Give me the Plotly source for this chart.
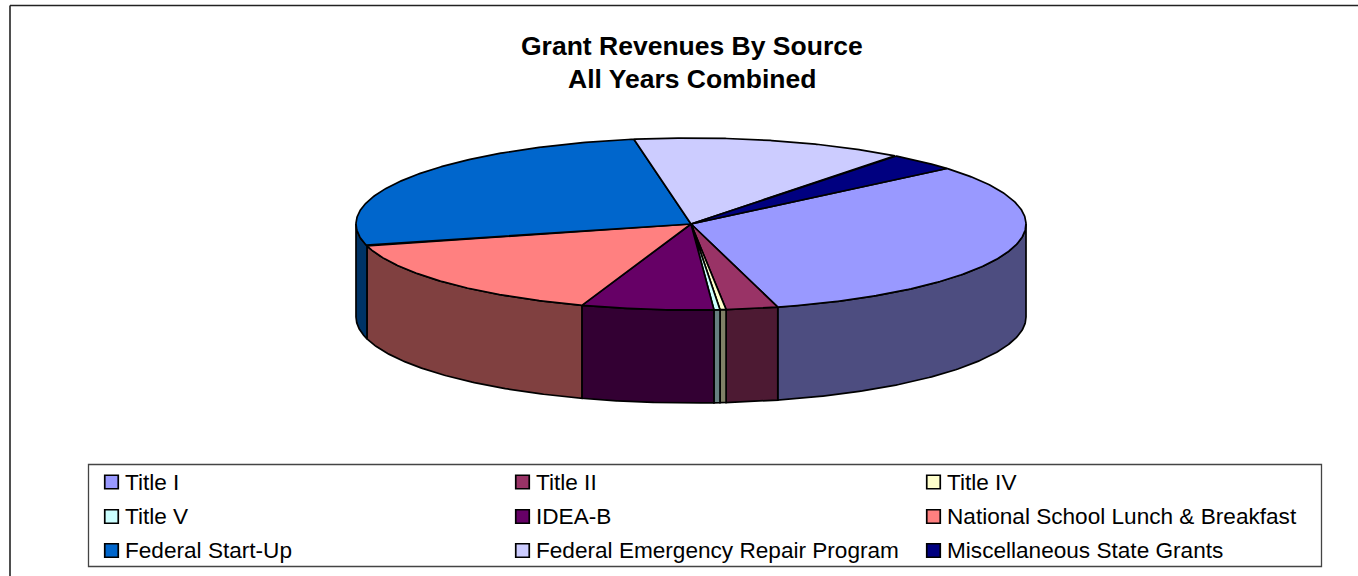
import numpy as np
import plotly.graph_objects as go

# Data (share of total, %)
categories = ["Title I", "Title II", "Title IV", "Title V", "IDEA-B",
              "National School Lunch & Breakfast", "Federal Start-Up",
              "Federal Emergency Repair Program", "Miscellaneous State Grants"]
values = [32.0, 2.5, 0.29, 0.29, 6.37, 15.64, 26.36, 13.14, 3.42]
top_colors = ["#9999FF", "#993366", "#FFFFCC", "#CCFFFF", "#660066",
              "#FF8080", "#0066CC", "#CCCCFF", "#000080"]
side_colors = ["#4D4D80", "#4D1A33", "#808066", "#668080", "#330033",
               "#804040", "#003366", "#666680", "#000040"]
title_lines = ["Grant Revenues By Source", "All Years Combined"]

# Pie geometry (in pixel-scaled axes)
W, H = 1358, 576
CX, CY, RX, RY, DEPTH = 691.0, 224.0, 335.0, 86.0, 93.0
START_DEG = 40.2   # first slice starts here, going clockwise


def ell(t_deg, dy=0.0):
    t = np.radians(t_deg)
    return CX + RX * np.cos(t), CY - RY * np.sin(t) + dy


fig = go.Figure()
shares = np.array(values) / sum(values) * 360.0
ends = START_DEG - np.cumsum(shares)
starts = ends + shares

# Side walls: front half only (angles -180..0)
for name, s, e, col in zip(categories, starts, ends, side_colors):
    for shift in (0, -360):
        a = min(s + shift, 0.0)
        b = max(e + shift, -180.0)
        if a > b:
            t = np.linspace(a, b, 120)
            x1, y1 = ell(t)
            x2, y2 = ell(t[::-1], DEPTH)
            fig.add_trace(go.Scatter(
                x=np.r_[x1, x2, x1[0]], y=np.r_[y1, y2, y1[0]],
                mode="lines", fill="toself", fillcolor=col,
                line=dict(color="black", width=1.7),
                name=name, showlegend=False, hoverinfo="name"))

# Top face
for name, s, e, col in zip(categories, starts, ends, top_colors):
    t = np.linspace(s, e, 200)
    x, y = ell(t)
    fig.add_trace(go.Scatter(
        x=np.r_[CX, x, CX], y=np.r_[CY, y, CY],
        mode="lines", fill="toself", fillcolor=col,
        line=dict(color="black", width=1.7),
        name=name, showlegend=False, hoverinfo="name"))

# Legend, laid out to the 3-column box of the reference
LEG_X = [111.5, 522.5, 933.5]
LEG_Y = [482, 516.5, 550.5]
lx = [LEG_X[i % 3] for i in range(len(categories))]
ly = [LEG_Y[i // 3] for i in range(len(categories))]
fig.add_trace(go.Scatter(
    x=lx, y=ly, mode="markers", showlegend=False, hoverinfo="skip",
    marker=dict(symbol="square", size=13.5, color=top_colors,
                line=dict(color="black", width=1.7))))

annotations = [dict(x=px + 11.5, y=py, xref="x", yref="y", text=c, showarrow=False,
                    xanchor="left", yanchor="middle",
                    font=dict(family="Liberation Sans", size=22.6, color="black"))
               for c, px, py in zip(categories, lx, ly)]
annotations += [dict(x=691.5, y=yy, xref="x", yref="y", text=f"<b>{t}</b>", showarrow=False,
                     xanchor="center", yanchor="middle",
                     font=dict(family="Liberation Sans", size=26.5, color="black"))
                for t, yy in zip(title_lines, [46, 79])]

shapes = [
    dict(type="rect", xref="x", yref="y", x0=88.5, x1=1321.5, y0=464.5, y1=566.5,
         line=dict(color="#444444", width=1.3), layer="below"),
    dict(type="line", xref="x", yref="y", x0=10, x1=W, y0=5.5, y1=5.5,
         line=dict(color="#222222", width=1.6)),
    dict(type="line", xref="x", yref="y", x0=10, x1=10, y0=5.5, y1=H,
         line=dict(color="#222222", width=1.6)),
]

fig.update_layout(
    width=W, height=H, margin=dict(l=0, r=0, t=0, b=0),
    paper_bgcolor="white", plot_bgcolor="white", showlegend=False,
    xaxis=dict(range=[0, W], visible=False, fixedrange=True),
    yaxis=dict(range=[H, 0], visible=False, fixedrange=True),
    annotations=annotations, shapes=shapes,
)

fig.write_html("out.html", config=dict(displayModeBar=False),
               post_script="document.body.style.margin='0';document.body.style.overflow='hidden';")
